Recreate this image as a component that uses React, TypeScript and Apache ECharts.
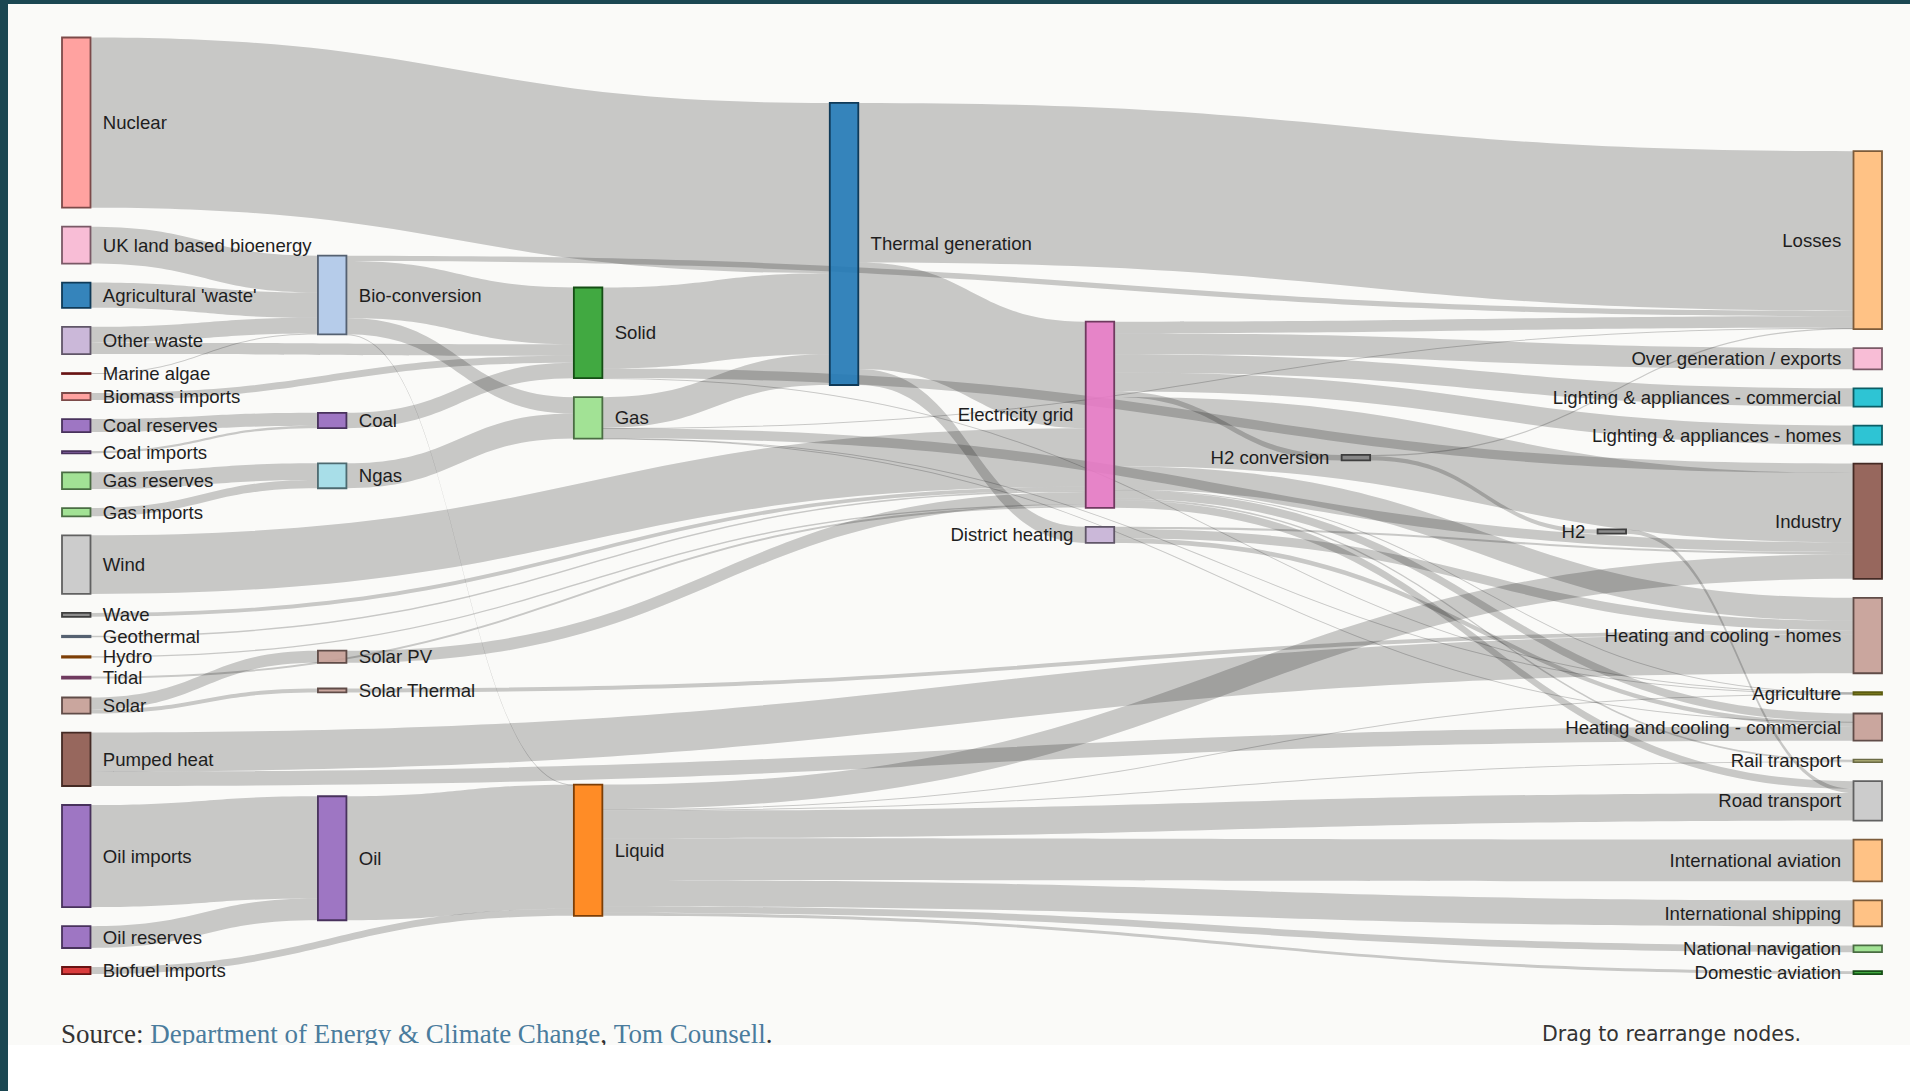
import React, { useEffect, useRef } from "react";
import * as echarts from "echarts";

// Node names, in the order of the source data (the order drives the layout)
const nodeNames: string[] = [
  "Agricultural 'waste'", "Bio-conversion", "Liquid", "Losses", "Solid", "Gas",
  "Biofuel imports", "Biomass imports", "Coal imports", "Coal", "Coal reserves",
  "District heating", "Industry", "Heating and cooling - commercial",
  "Heating and cooling - homes", "Electricity grid", "Over generation / exports",
  "H2 conversion", "Road transport", "Agriculture", "Rail transport",
  "Lighting & appliances - commercial", "Lighting & appliances - homes",
  "Gas imports", "Ngas", "Gas reserves", "Thermal generation", "Geothermal", "H2",
  "Hydro", "International shipping", "Domestic aviation", "International aviation",
  "National navigation", "Marine algae", "Nuclear", "Oil imports", "Oil",
  "Oil reserves", "Other waste", "Pumped heat", "Solar PV", "Solar Thermal",
  "Solar", "Tidal", "UK land based bioenergy", "Wave", "Wind",
];

// Flows: [source index, target index, value]
const flows: [number, number, number][] = [
  [0, 1, 124.729], [1, 2, 0.597], [1, 3, 26.862], [1, 4, 280.322], [1, 5, 81.144],
  [6, 2, 35], [7, 4, 35], [8, 9, 11.606], [10, 9, 63.965], [9, 4, 75.571],
  [11, 12, 10.639], [11, 13, 22.505], [11, 14, 46.184],
  [15, 16, 104.453], [15, 14, 113.726], [15, 17, 27.14], [15, 12, 342.165],
  [15, 18, 37.797], [15, 19, 4.412], [15, 13, 40.858], [15, 3, 56.691],
  [15, 20, 7.863], [15, 21, 90.008], [15, 22, 93.494],
  [23, 24, 40.719], [25, 24, 82.233],
  [5, 13, 0.129], [5, 3, 1.401], [5, 26, 151.891], [5, 19, 2.096], [5, 12, 48.58],
  [27, 15, 7.013], [17, 28, 20.897], [17, 3, 6.242], [28, 18, 20.897], [29, 15, 6.995],
  [2, 12, 121.066], [2, 30, 128.69], [2, 18, 135.835], [2, 31, 14.458],
  [2, 32, 206.267], [2, 19, 3.64], [2, 33, 33.218], [2, 20, 4.413],
  [34, 1, 4.375], [24, 5, 122.952], [35, 26, 839.978],
  [36, 37, 504.287], [38, 37, 107.703], [37, 2, 611.99],
  [39, 4, 56.587], [39, 1, 77.81], [40, 14, 193.026], [40, 13, 70.672],
  [41, 15, 59.901], [42, 14, 19.263], [43, 42, 19.263], [43, 41, 59.901],
  [4, 19, 0.882], [4, 26, 400.12], [4, 12, 46.477],
  [26, 15, 525.531], [26, 3, 787.129], [26, 11, 79.329],
  [44, 15, 9.452], [45, 1, 182.01], [46, 15, 19.013], [47, 15, 289.366],
];

const sourcePrefix = "Source: ";
const sourceLinks = ["Department of Energy & Climate Change", "Tom Counsell"];
const dragNote = "Drag to rearrange nodes.";

const palette20 = [
  "#1f77b4", "#aec7e8", "#ff7f0e", "#ffbb78", "#2ca02c", "#98df8a", "#d62728",
  "#ff9896", "#9467bd", "#c5b0d5", "#8c564b", "#c49c94", "#e377c2", "#f7b6d2",
  "#7f7f7f", "#c7c7c7", "#bcbd22", "#dbdb8d", "#17becf", "#9edae5",
];

function hexToRgb(h: string): number[] {
  return [1, 3, 5].map((i) => parseInt(h.slice(i, i + 2), 16));
}

function nodeColours() {
  const seen: string[] = [];
  return nodeNames.map((n) => {
    const key = n.replace(/ .*/, "");
    let i = seen.indexOf(key);
    if (i < 0) { seen.push(key); i = seen.length - 1; }
    const rgb = hexToRgb(palette20[i % 20]);
    const k = Math.pow(0.7, 2);
    return {
      fill: `rgba(${rgb[0]},${rgb[1]},${rgb[2]},0.9)`,
      stroke: `rgb(${rgb.map((c) => Math.floor(c * k)).join(",")})`,
    };
  });
}

function nodeDepths(): number[] {
  const depth = nodeNames.map(() => 0);
  let changed = true;
  while (changed) {
    changed = false;
    for (const [s, t] of flows) {
      if (depth[t] < depth[s] + 1) { depth[t] = depth[s] + 1; changed = true; }
    }
  }
  const max = Math.max(...depth);
  return depth.map((d, i) => (flows.some((f) => f[0] === i) ? d : max));
}

export default function App() {
  const ref = useRef<HTMLDivElement>(null);
  useEffect(() => {
    if (!ref.current) return;
    const chart = echarts.init(ref.current, undefined, { renderer: "svg" });
    const colours = nodeColours();
    const depths = nodeDepths();
    const maxDepth = Math.max(...depths);
    const s = 1820 / 958;
    const data = nodeNames.map((name, i) => ({
      name,
      itemStyle: { color: colours[i].fill, borderColor: colours[i].stroke, borderWidth: 1.8 },
      label: { position: depths[i] < maxDepth / 2 ? "right" : "left" },
    }));
    const links = flows.map(([a, b, v]) => ({ source: nodeNames[a], target: nodeNames[b], value: v }));
    chart.setOption({
      animation: false,
      backgroundColor: "transparent",
      series: [
        {
          type: "sankey",
          left: 62,
          top: 37.5,
          width: 1820,
          height: 493 * s,
          nodeWidth: 15 * s,
          nodeGap: 10 * s,
          layoutIterations: 32,
          nodeAlign: "justify",
          draggable: false,
          emphasis: { disabled: true },
          data,
          links,
          label: {
            fontFamily: "'Liberation Sans', Arial, sans-serif",
            fontSize: 18.6,
            color: "#1e1e1e",
            distance: 11.4,
            textShadowColor: "#fff",
            textShadowOffsetY: 1.9,
            textShadowBlur: 0,
          },
          lineStyle: { color: "#000", opacity: 0.2, curveness: 0.5 },
        },
      ],
      graphic: [
        {
          type: "text",
          left: 61,
          top: 1020.5,
          z: 50,
          style: {
            text: `${sourcePrefix}{l|${sourceLinks[0]}}, {l|${sourceLinks[1]}}.`,
            font: "27px 'Liberation Serif', serif",
            fill: "#333",
            rich: { l: { fill: "#4a7c9d", font: "27px 'Liberation Serif', serif" } },
          },
        },
        {
          type: "text",
          left: 1542,
          top: 1023,
          z: 50,
          style: { text: dragNote, font: "20.5px 'DejaVu Sans', sans-serif", fill: "#333" },
        },
        {
          type: "rect",
          z: 100,
          shape: { x: 8, y: 1045, width: 1902, height: 46 },
          style: { fill: "#ffffff" },
        },
      ],
    });
    return () => chart.dispose();
  }, []);
  return (
    <div style={{ position: "fixed", left: 0, top: 0, width: 1910, height: 1091, background: "#fff", overflow: "hidden" }}>
      <div style={{ position: "absolute", left: 8, top: 4, width: 1902, height: 1041, background: "#fafaf8" }} />
      <div style={{ position: "absolute", left: 0, top: 0, width: 1910, height: 4, background: "#1b4752" }} />
      <div style={{ position: "absolute", left: 0, top: 0, width: 8, height: 1091, background: "#1b4752" }} />
      <div ref={ref} style={{ position: "absolute", left: 0, top: 0, width: 1910, height: 1091 }} />
    </div>
  );
}
